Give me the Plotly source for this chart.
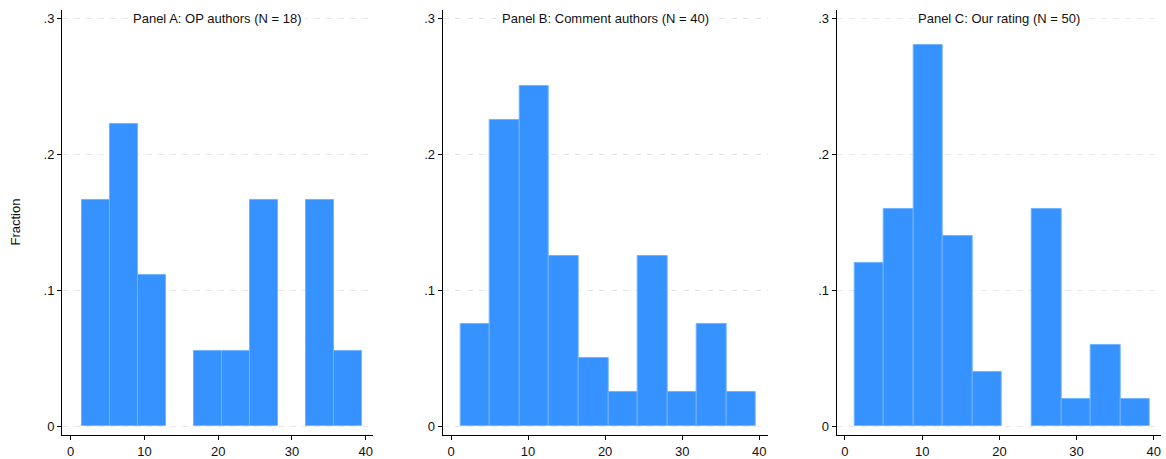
import plotly.graph_objects as go

# Histogram bins (start of first bin, common bin width) and counts per panel
titles = ["Panel A: OP authors (N = 18)",
          "Panel B: Comment authors (N = 40)",
          "Panel C: Our rating (N = 50)"]
n_obs = [18, 40, 50]
bin_start = [1.5, 1.2, 1.2]
bin_width = [3.8, 3.84, 3.83]
counts_a = [3, 4, 2, 0, 1, 1, 3, 0, 3, 1]
counts_b = [3, 9, 10, 5, 2, 1, 5, 1, 3, 1]
counts_c = [6, 8, 14, 7, 2, 0, 8, 1, 3, 1]
counts = [counts_a, counts_b, counts_c]

y_ticks = [0, 0.1, 0.2, 0.3]
y_tick_text = ["0", ".1", ".2", ".3"]
x_ticks = [0, 10, 20, 30, 40]

W, H = 1166, 459
FONT = "Liberation Sans, Arial, Helvetica, sans-serif"
BAR = "#3592ff"
EDGE = "#72b3ff"

# pixel extents of each plot region
x_px = [(62, 373), (442.7, 767.7), (836.7, 1161)]
x_ranges = [[-1.18, 41.0], [-1.08, 41.1], [-1.07, 40.93]]
y_top_px, y_bot_px = 10, 437
y_range = [-0.0064, 0.306]

fig = go.Figure()
for i in range(3):
    k = "" if i == 0 else str(i + 1)
    centers = [bin_start[i] + bin_width[i] * (j + 0.5) for j in range(len(counts[i]))]
    frac = [c / n_obs[i] for c in counts[i]]
    # empty bins get no outline so nothing is drawn for them
    edge_w = [1 if c > 0 else 0 for c in counts[i]]
    fig.add_trace(go.Bar(
        x=centers, y=frac, width=bin_width[i],
        marker=dict(color=BAR, line=dict(color=EDGE, width=edge_w)),
        xaxis="x" + k, yaxis="y" + k, showlegend=False,
        hoverinfo="x+y",
    ))
    axis_common = dict(
        showline=True, linecolor="black", linewidth=1,
        ticks="outside", ticklen=4, tickcolor="black", tickwidth=1,
        tickfont=dict(family=FONT, size=13, color="#111"),
        zeroline=False, mirror=False,
    )
    fig.layout["xaxis" + k] = dict(
        **axis_common,
        domain=[x_px[i][0] / W, x_px[i][1] / W],
        range=x_ranges[i], tickvals=x_ticks, showgrid=False,
        anchor="y" + k,
    )
    fig.layout["yaxis" + k] = dict(
        **axis_common,
        domain=[(H - y_bot_px) / H, (H - y_top_px) / H],
        range=y_range, tickvals=y_ticks, ticktext=y_tick_text,
        showgrid=True, gridcolor="#e8e8e8", gridwidth=1, griddash="6px,6px",
        anchor="x" + k,
    )
    fig.add_annotation(
        text=titles[i], xref=("x" + k + " domain"), yref="y" + k,
        x=0.5, y=0.3, xanchor="center", yanchor="middle", showarrow=False,
        bgcolor="white", borderpad=2,
        font=dict(family=FONT, size=13, color="#111"),
    )

fig.add_annotation(
    text="Fraction", xref="paper", yref="paper",
    x=16 / W, y=(H - (y_top_px + y_bot_px) / 2) / H,
    xanchor="center", yanchor="middle", textangle=-90, showarrow=False,
    font=dict(family=FONT, size=13, color="#111"),
)

fig.update_layout(
    width=W, height=H, margin=dict(l=0, r=0, t=0, b=0),
    paper_bgcolor="white", plot_bgcolor="white", bargap=0,
)
fig.write_html("out.html")
